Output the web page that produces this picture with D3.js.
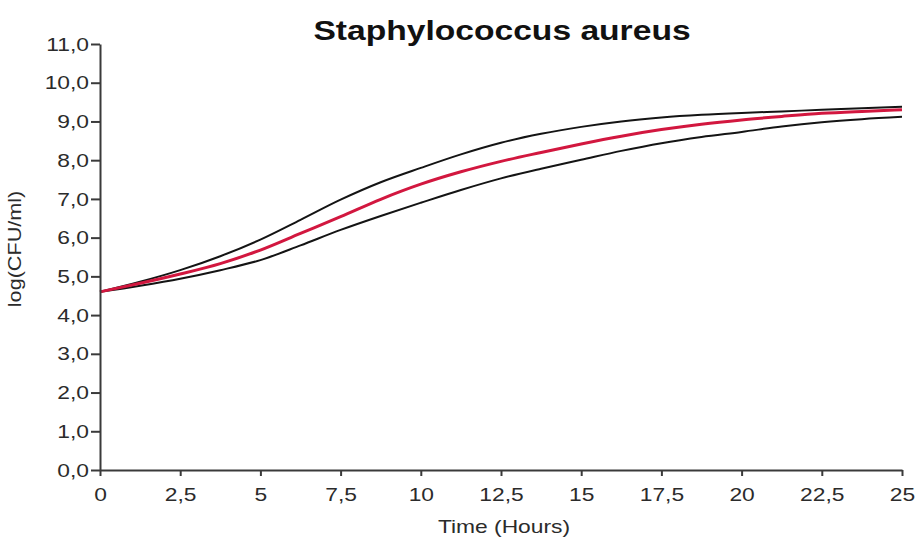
<!DOCTYPE html>
<html>
<head>
<meta charset="utf-8">
<script src="https://cdn.jsdelivr.net/npm/d3@7/dist/d3.min.js"></script>
<style>
  body { margin: 0; background: #fff; }
  svg { display: block; }
  text { font-family: "Liberation Sans", Arial, sans-serif; fill: #2b2b2b; }
</style>
</head>
<body>
<div id="chart"></div>
<script>
// time points (hours)
var hours = [0, 1.25, 2.5, 3.75, 5, 6.25, 7.5, 8.75, 10, 11.25, 12.5, 13.75, 15, 16.25, 17.5, 18.75, 20, 21.25, 22.5, 23.75, 25];
// mean growth curve, log(CFU/ml)
var meanCurve = [4.60, 4.82, 5.06, 5.33, 5.68, 6.11, 6.54, 6.99, 7.38, 7.70, 7.97, 8.20, 8.42, 8.62, 8.79, 8.93, 9.04, 9.13, 9.21, 9.26, 9.30];
// upper and lower bound curves
var upperCurve = [4.60, 4.86, 5.16, 5.52, 5.95, 6.46, 6.98, 7.43, 7.80, 8.15, 8.45, 8.68, 8.86, 9.00, 9.10, 9.17, 9.22, 9.26, 9.30, 9.34, 9.38];
var lowerCurve = [4.60, 4.76, 4.94, 5.16, 5.42, 5.80, 6.20, 6.56, 6.90, 7.23, 7.53, 7.78, 8.01, 8.24, 8.44, 8.60, 8.73, 8.87, 8.98, 9.06, 9.12];

var xTicks = [0, 2.5, 5, 7.5, 10, 12.5, 15, 17.5, 20, 22.5, 25];
var yTicks = [0, 1, 2, 3, 4, 5, 6, 7, 8, 9, 10, 11];

var W = 918, H = 539;
var stretch = 1.2;   // text in the picture is a little wide

var svg = d3.select("#chart").append("svg")
    .attr("width", W)
    .attr("height", H);

var x = d3.scaleLinear().domain([0, 25]).range([100, 902]);
var y = d3.scaleLinear().domain([0, 11]).range([470, 44]);

function widen(sel) {
    sel.each(function () {
        var w = this.getComputedTextLength();
        d3.select(this)
            .attr("textLength", w * stretch)
            .attr("lengthAdjust", "spacingAndGlyphs");
    });
}

// lines
var line = d3.line()
    .x(function (d) { return x(d[0]); })
    .y(function (d) { return y(d[1]); })
    .curve(d3.curveMonotoneX);

function pairs(vals) {
    return hours.map(function (h, i) { return [h, vals[i]]; });
}

svg.append("path")
    .attr("d", line(pairs(lowerCurve)))
    .attr("fill", "none")
    .attr("stroke", "#141414")
    .attr("stroke-width", 2);

svg.append("path")
    .attr("d", line(pairs(upperCurve)))
    .attr("fill", "none")
    .attr("stroke", "#141414")
    .attr("stroke-width", 2);

svg.append("path")
    .attr("d", line(pairs(meanCurve)))
    .attr("fill", "none")
    .attr("stroke", "#d2173f")
    .attr("stroke-width", 3);

// axes
var xAxis = d3.axisBottom(x)
    .tickValues(xTicks)
    .tickSize(6)
    .tickSizeOuter(0)
    .tickPadding(12)
    .tickFormat(function (d) { return String(d).replace(".", ","); });

var yAxis = d3.axisLeft(y)
    .tickValues(yTicks)
    .tickSize(9)
    .tickSizeOuter(0)
    .tickPadding(2)
    .tickFormat(function (d) { return d.toFixed(1).replace(".", ","); });

var gx = svg.append("g")
    .attr("transform", "translate(0," + y(0) + ")")
    .call(xAxis);

var gy = svg.append("g")
    .attr("transform", "translate(" + x(0) + ",0)")
    .call(yAxis);

[gx, gy].forEach(function (g) {
    g.select(".domain").attr("stroke", "#3a3a3a").attr("stroke-width", 2);
    g.selectAll(".tick line").attr("stroke", "#3a3a3a").attr("stroke-width", 2);
    g.selectAll(".tick text")
        .attr("fill", "#2b2b2b")
        .style("font-size", "19px")
        .style("font-family", "Liberation Sans, Arial, sans-serif")
        .call(widen);
});

// title
svg.append("text")
    .attr("x", 502)
    .attr("y", 40)
    .attr("text-anchor", "middle")
    .style("font-size", "28px")
    .style("font-weight", "bold")
    .style("fill", "#111")
    .text("Staphylococcus aureus")
    .call(widen);

// axis titles
svg.append("text")
    .attr("x", 504)
    .attr("y", 533)
    .attr("text-anchor", "middle")
    .style("font-size", "19px")
    .text("Time (Hours)")
    .call(widen);

svg.append("text")
    .attr("transform", "translate(21,249) rotate(-90)")
    .attr("text-anchor", "middle")
    .style("font-size", "18px")
    .text("log(CFU/ml)")
    .call(widen);
</script>
</body>
</html>
